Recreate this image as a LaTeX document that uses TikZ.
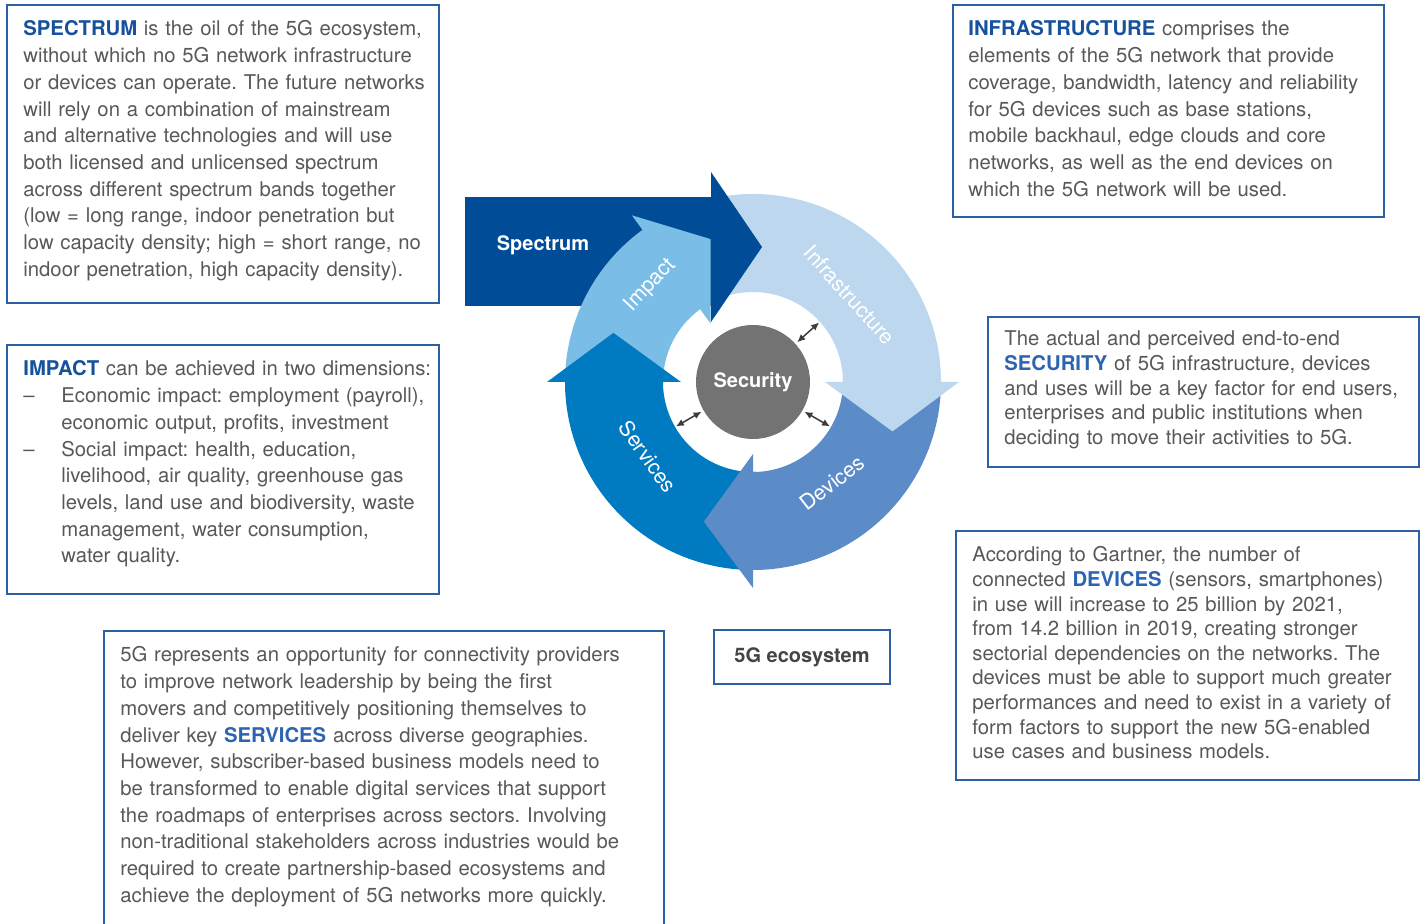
\documentclass[tikz,border=0pt]{standalone}
\usepackage{fontspec}
\setmainfont{TeX Gyre Heros}
\usetikzlibrary{positioning,calc,arrows.meta}

\definecolor{spectrumc}{RGB}{0,76,151}
\definecolor{impactc}{RGB}{122,190,232}
\definecolor{infrac}{RGB}{189,215,238}
\definecolor{devicesc}{RGB}{91,140,200}
\definecolor{servicesc}{RGB}{0,122,193}
\definecolor{securityc}{RGB}{115,115,115}
\definecolor{framec}{RGB}{45,95,165}
\definecolor{textgray}{RGB}{88,88,90}
\definecolor{ecogray}{RGB}{68,68,70}
\definecolor{headdark}{RGB}{22,82,155}
\definecolor{headlight}{RGB}{45,100,178}
\definecolor{arrowgray}{RGB}{60,60,60}

\newcommand\bodyfont{\fontsize{10.15pt}{13.35pt}\selectfont\frenchspacing}
\newcommand\tightfont{\fontsize{10.15pt}{12.3pt}\selectfont\frenchspacing}
\newcommand\ringfont{\fontsize{10.6pt}{12pt}\selectfont}
\newcommand\labelfont{\fontsize{10pt}{12pt}\selectfont\bfseries}
\newcommand\darkhead[1]{\textcolor{headdark}{\textbf{#1}}}
\newcommand\lighthead[1]{\textcolor{headlight}{\textbf{#1}}}

\begin{document}
\begin{tikzpicture}[x=0.5pt, y=0.5pt,
  frame/.style={draw=framec, line width=0.6pt, inner sep=0pt, outer sep=0pt, anchor=north west},
  bodytext/.style={anchor=base west, inner sep=0pt, text width=300pt, align=left, text=textgray, font=\bodyfont},
  ringlabel/.style={text=white, font=\ringfont, inner sep=0pt},
  dblarrow/.style={{Latex[length=4pt,width=3.6pt]}-{Latex[length=4pt,width=3.6pt]}, line width=0.75pt, draw=arrowgray, shorten <=1pt}]
\useasboundingbox (0,0) rectangle (1425,-924);

% Spectrum
\node [frame, minimum width=216pt, minimum height=149pt] (specbox) at (7,-5) {};
\node [bodytext] (spectxt) at ($(specbox.north west)+(16,-31)$)
  {\darkhead{SPECTRUM} is the oil of the 5G ecosystem,\\
   without which no 5G network infrastructure\\
   or devices can operate. The future networks\\
   will rely on a combination of mainstream\\
   and alternative technologies and will use\\
   both licensed and unlicensed spectrum\\
   across different spectrum bands together\\
   (low = long range, indoor penetration but\\
   low capacity density; high = short range, no\\
   indoor penetration, high capacity density).};

% Infrastructure
\node [frame, minimum width=215.5pt, minimum height=106pt] (infrabox) at (953,-5) {};
\node [bodytext] (infratxt) at ($(infrabox.north west)+(15,-31)$)
  {\darkhead{INFRASTRUCTURE} comprises the\\
   elements of the 5G network that provide\\
   coverage, bandwidth, latency and reliability\\
   for 5G devices such as base stations,\\
   mobile backhaul, edge clouds and core\\
   networks, as well as the end devices on\\
   which the 5G network will be used.};

% Impact
\node [frame, minimum width=216pt, minimum height=124.5pt] (impbox) at (7,-345) {};
\node [bodytext] (imptxt) at ($(impbox.north west)+(16,-31)$)
  {\darkhead{IMPACT} can be achieved in two dimensions:\\
   \makebox[19pt][l]{--}Economic impact: employment (payroll),\\
   \hspace*{19pt}economic output, profits, investment\\
   \makebox[19pt][l]{--}Social impact: health, education,\\
   \hspace*{19pt}livelihood, air quality, greenhouse gas\\
   \hspace*{19pt}levels, land use and biodiversity, waste\\
   \hspace*{19pt}management, water consumption,\\
   \hspace*{19pt}water quality.};

% Security
\node [frame, minimum width=215.5pt, minimum height=75pt] (secbox) at (988,-317) {};
\node [bodytext, font=\tightfont] (sectxt) at ($(secbox.north west)+(16,-29)$)
  {The actual and perceived end-to-end\\
   \lighthead{SECURITY} of 5G infrastructure, devices\\
   and uses will be a key factor for end users,\\
   enterprises and public institutions when\\
   deciding to move their activities to 5G.};

% Devices
\node [frame, minimum width=231.5pt, minimum height=124.5pt] (devbox) at (956,-531) {};
\node [bodytext, font=\tightfont] (devtxt) at ($(devbox.north west)+(16,-31)$)
  {According to Gartner, the number of\\
   connected \lighthead{DEVICES} (sensors, smartphones)\\
   in use will increase to 25 billion by 2021,\\
   from 14.2 billion in 2019, creating stronger\\
   sectorial dependencies on the networks. The\\
   devices must be able to support much greater\\
   performances and need to exist in a variety of\\
   form factors to support the new 5G-enabled\\
   use cases and business models.};

% Services
\node [frame, minimum width=280pt, minimum height=154.5pt] (servbox) at (104,-631) {};
\node [bodytext] (servtxt) at ($(servbox.north west)+(16,-31)$)
  {5G represents an opportunity for connectivity providers\\
   to improve network leadership by being the first\\
   movers and competitively positioning themselves to\\
   deliver key \lighthead{SERVICES} across diverse geographies.\\
   However, subscriber-based business models need to\\
   be transformed to enable digital services that support\\
   the roadmaps of enterprises across sectors. Involving\\
   non-traditional stakeholders across industries would be\\
   required to create partnership-based ecosystems and\\
   achieve the deployment of 5G networks more quickly.};

% 5G ecosystem
\node [frame, minimum width=88pt, minimum height=27pt, font=\labelfont, text=ecogray] (ecobox) at (714,-630) {5G ecosystem};

% Spectrum arrow body
\fill [spectrumc] (465,-197) rectangle (711,-306);
\node [font=\labelfont, text=white] (speclabel) at (543,-245) {Spectrum};

% Cycle
\begin{scope}[shift={(753,-382)}]
\fill [impactc] (182:188) arc[start angle=182, end angle=126, radius=188] -- (126:206) -- (106.5:149)
  -- (126:72) -- (126:90) arc[start angle=126, end angle=182, radius=90] -- cycle;
\fill [servicesc] (272:188) arc[start angle=272, end angle=180, radius=188] -- (180:206) -- (160.6:148)
  -- (180:72) -- (180:90) arc[start angle=180, end angle=272, radius=90] -- cycle;
\fill [devicesc] (2:188) arc[start angle=2, end angle=-90, radius=188] -- (-90:206) -- (-109.4:148)
  -- (-90:72) -- (-90:90) arc[start angle=-90, end angle=2, radius=90] -- cycle;
\fill [infrac] (100:188) arc[start angle=100, end angle=0, radius=188] -- (0:206) -- (-19.5:148)
  -- (0:72) -- (0:90) arc[start angle=0, end angle=106, radius=90] -- cycle;

\node [ringlabel, rotate=46.7] (implabel) at (136.7:141) {Impact};
\node [ringlabel, rotate=-48] (infralabel) at (42:130) {Infrastructure};
\node [ringlabel, rotate=38] (devlabel) at (-52:128) {Devices};
\node [ringlabel, rotate=-54.6] (servlabel) at (215.4:129) {Services};

% Security
\node [circle, fill=securityc, minimum size=57pt, inner sep=0pt, text=white, font=\labelfont] (sec) at (0,0) {Security};
\coordinate (toinfra) at (42:89);
\coordinate (todev) at (-30:89);
\coordinate (toserv) at (210:89);
\draw [dblarrow] (sec.42) -- (toinfra);
\draw [dblarrow] (sec.-30) -- (todev);
\draw [dblarrow] (sec.210) -- (toserv);
\end{scope}

% Spectrum arrow head
\fill [spectrumc] (711,-172) -- (762,-247) -- (711,-322) -- cycle;
\end{tikzpicture}
\end{document}
